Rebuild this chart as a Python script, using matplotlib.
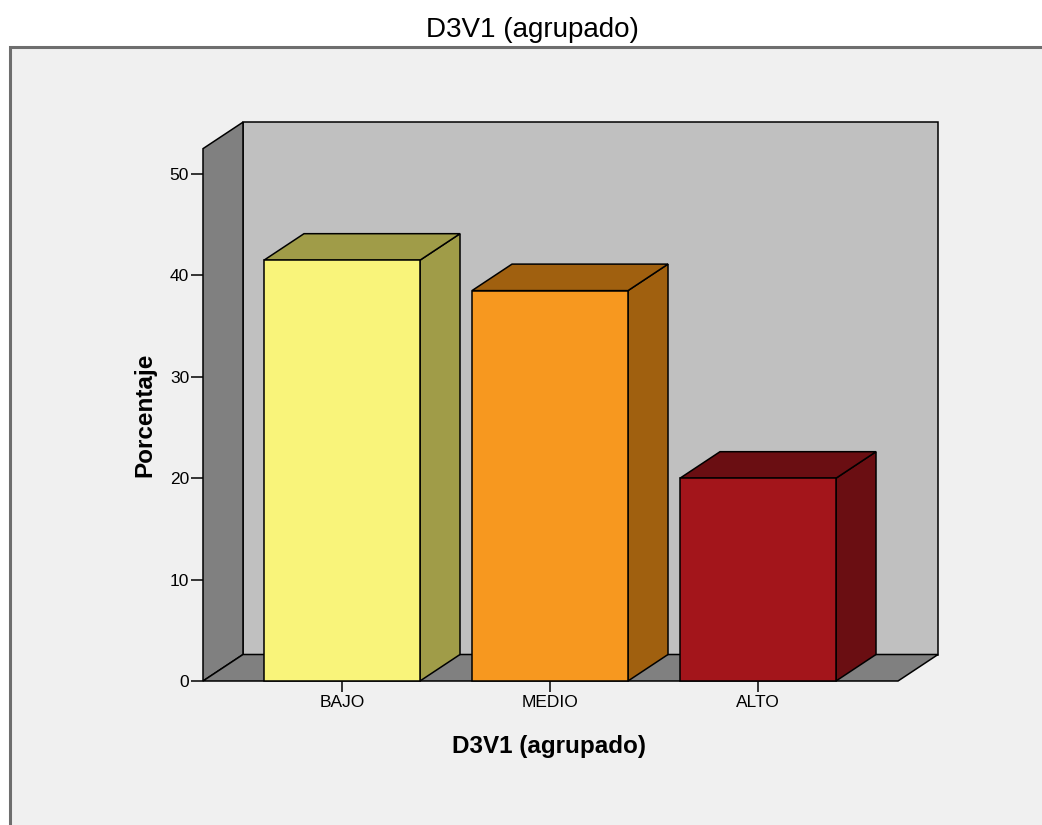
import matplotlib
matplotlib.use("Agg")
import matplotlib.pyplot as plt
from matplotlib.patches import Polygon, Rectangle

# Frequencies of D3V1 grouped (percent)
categories = ["BAJO", "MEDIO", "ALTO"]
percentages = [41.5, 38.5, 20.0]
yticks = [0, 10, 20, 30, 40, 50]

front_colors = ["#f9f47a", "#f7981f", "#a3151b"]
shade_colors = ["#a09c48", "#a0600f", "#6a0e12"]

W, H = 1042, 825
fig = plt.figure(figsize=(W / 100, H / 100), dpi=100)
fig.patch.set_facecolor("white")
plt.rcParams["font.family"] = ["Liberation Sans", "DejaVu Sans"]

# framed chart panel
panel = Rectangle((10 / W, -0.05), 1.1, 1 - 47 / H + 0.05, transform=fig.transFigure,
                  facecolor="#f0f0f0", edgecolor="#6e6e6e", linewidth=2.2, zorder=-5)
fig.patches.append(panel)

# scale: 208 px per category, 10.14 px per percent
PX_X, PX_Y = 208.0, 10.14
left_px, right_px, bottom_px, top_px = 203, 938, 681, 121
ax = fig.add_axes([left_px / W, (H - bottom_px) / H,
                   (right_px - left_px) / W, (bottom_px - top_px) / H])
ax.set_zorder(1)
X0 = -(342 - left_px) / PX_X
ax.set_xlim(X0, X0 + (right_px - left_px) / PX_X)
ax.set_ylim(0, (bottom_px - top_px) / PX_Y)
ax.patch.set_alpha(0)
for s in ax.spines.values():
    s.set_visible(False)

DX = 40 / PX_X
DY = 26.5 / PX_Y
YTOP = 52.5
X1 = 2 + (342 - left_px) / PX_X + 0.005
EC = "black"
LW = 1.1

# back wall, side wall, floor
ax.add_patch(Polygon([(X0 + DX, DY), (X1 + DX, DY), (X1 + DX, YTOP + DY), (X0 + DX, YTOP + DY)],
                     closed=True, facecolor="#c0c0c0", edgecolor=EC, linewidth=LW, clip_on=False))
ax.add_patch(Polygon([(X0, 0), (X0 + DX, DY), (X0 + DX, YTOP + DY), (X0, YTOP)],
                     closed=True, facecolor="#808080", edgecolor=EC, linewidth=LW, clip_on=False))
ax.add_patch(Polygon([(X0, 0), (X1, 0), (X1 + DX, DY), (X0 + DX, DY)],
                     closed=True, facecolor="#808080", edgecolor=EC, linewidth=LW, clip_on=False))

# 3D bars
BW = 0.75
for i, (v, fc, sc) in enumerate(zip(percentages, front_colors, shade_colors)):
    xl, xr = i - BW / 2, i + BW / 2
    ax.add_patch(Polygon([(xr, 0), (xr + DX, DY), (xr + DX, v + DY), (xr, v)],
                         closed=True, facecolor=sc, edgecolor=EC, linewidth=LW, clip_on=False))
    ax.add_patch(Polygon([(xl, v), (xr, v), (xr + DX, v + DY), (xl + DX, v + DY)],
                         closed=True, facecolor=sc, edgecolor=EC, linewidth=LW, clip_on=False))
    ax.add_patch(Rectangle((xl, 0), BW, v, facecolor=fc, edgecolor=EC, linewidth=LW, clip_on=False))

ax.set_xticks(range(len(categories)))
ax.set_xticklabels(categories, fontsize=12.5)
ax.set_yticks(yticks)
ax.set_yticklabels([str(t) for t in yticks], fontsize=12.5)
ax.tick_params(axis="y", direction="out", length=8.5, width=1.1, pad=1.5, colors="black")
ax.tick_params(axis="x", direction="out", length=8, width=1.1, pad=2, colors="black")

fig.text(532 / W, 1 - 37 / H, "D3V1 (agrupado)", ha="center", va="baseline", fontsize=20)
fig.text(549 / W, 1 - 753 / H, "D3V1 (agrupado)", ha="center", va="baseline",
         fontsize=17.5, fontweight="bold")
fig.text(145 / W, 1 - 415 / H, "Porcentaje", ha="center", va="center", rotation=90,
         fontsize=17.5, fontweight="bold")

fig.savefig("out.png", dpi=100)
